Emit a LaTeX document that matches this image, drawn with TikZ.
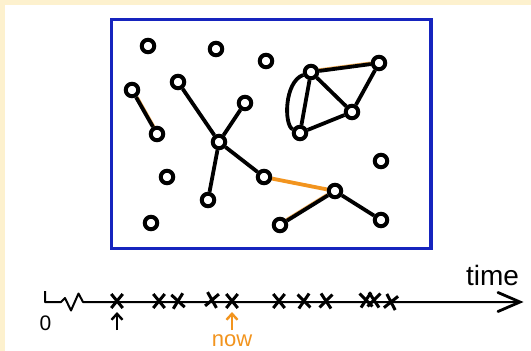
\documentclass[tikz,border=0pt]{standalone}
\usepackage{fontspec}
\setmainfont{Liberation Sans}
\usetikzlibrary{shapes.misc,arrows.meta,backgrounds}
\definecolor{cream}{RGB}{253,241,206}
\definecolor{boxblue}{RGB}{22,36,190}
\definecolor{myorange}{RGB}{242,148,30}
\begin{document}
\begin{tikzpicture}[x=1pt,y=-1pt,
  vtx/.style={circle,draw=black,fill=white,line width=4pt,minimum size=12.5pt,inner sep=0pt},
  edge/.style={line width=3.8pt,black},
  oedge/.style={line width=3.8pt,myorange},
  halo/.style={line width=3pt,myorange!75},
  xmk/.style={cross out,draw=black,line width=3pt,minimum width=8.5pt,minimum height=11pt,inner sep=0pt},
  uparrow/.style={line width=2.4pt,-{Straight Barb[length=6pt,width=11pt,line width=2.4pt]}}]
\useasboundingbox (0,0) rectangle (531,351);
\begin{scope}[on background layer]
  \fill[cream] (0,0) rectangle (531,351);
  \fill[white] (5,5) rectangle (531,351);
\end{scope}
% frame
\draw[boxblue,line width=3.2pt] (111.5,19.5) rectangle (431,248.5);
% vertices
\node[vtx] (n1) at (148,46) {};
\node[vtx] (n2) at (216,49) {};
\node[vtx] (n3) at (266,61) {};
\node[vtx] (A) at (311,72) {};
\node[vtx] (B) at (379,63) {};
\node[vtx] (C) at (352,112) {};
\node[vtx] (D) at (300,133) {};
\node[vtx] (p1) at (132,90) {};
\node[vtx] (p2) at (157,134) {};
\node[vtx] (s1) at (178,82) {};
\node[vtx] (s2) at (245,103) {};
\node[vtx] (hub) at (219,142) {};
\node[vtx] (s3) at (264,177) {};
\node[vtx] (s4) at (208,200) {};
\node[vtx] (n4) at (167,177) {};
\node[vtx] (n5) at (151,223) {};
\node[vtx] (n6) at (381,161) {};
\node[vtx] (t1) at (335,191) {};
\node[vtx] (t2) at (280,225) {};
\node[vtx] (t3) at (381,220) {};
% edges
\begin{scope}[on background layer]
  \draw[halo,transform canvas={shift={(1.1pt,0pt)}}] (p1) -- (p2);
  \draw[halo,transform canvas={shift={(0pt,1.1pt)}}] (A) -- (B);
  \draw[halo,transform canvas={shift={(-0.8pt,0.8pt)}}] (t1) -- (t2);
  \draw[edge] (p1) -- (p2);
  \draw[edge] (hub) -- (s1);
  \draw[edge] (hub) -- (s2);
  \draw[edge] (hub) -- (s4);
  \draw[edge] (hub) -- (s3);
  \draw[oedge] (s3) -- (t1);
  \draw[edge] (t1) -- (t2);
  \draw[edge] (t1) -- (t3);
  \draw[edge] (A) -- (B);
  \draw[edge] (B) -- (C);
  \draw[edge] (A) -- (C);
  \draw[edge] (A) -- (D);
  \draw[edge] (C) -- (D);
  \draw[edge] (A) .. controls (284,82) and (284,125) .. (D);
\end{scope}
% time line
\coordinate (tl0) at (45,291);
\coordinate (tlend) at (520,302);
\draw[line width=2pt,line join=round] (tl0) -- (45,302) -- (61,302) -- (65,298) -- (71,310.5) -- (78.5,293.5) -- (83,302) -- (tlend);
\draw[line width=2.8pt,line cap=round,line join=miter] (498,292.5) -- (tlend) -- (498,311.5);
% events
\node[xmk] (x1) at (117,301) {};
\node[xmk] (x2) at (159,301) {};
\node[xmk,rotate=8] (x3) at (178,301) {};
\node[xmk,rotate=-10] (x4) at (212,300) {};
\node[xmk] (x5) at (232,301) {};
\node[xmk] (x6) at (279,301) {};
\node[xmk,rotate=5] (x7) at (304,301) {};
\node[xmk,rotate=-6] (x8) at (326,301) {};
\node[xmk,rotate=6] (x9) at (366,300) {};
\node[xmk,rotate=-6] (x10) at (374,300) {};
\node[xmk,rotate=-12] (x11) at (391,302) {};
% arrows
\coordinate (a1) at (117,330);
\coordinate (a2) at (232,330);
\draw[uparrow] (a1) -- (x1.south) [shorten >=4pt];
\draw[uparrow,myorange] (a2) -- (x5.south) [shorten >=4pt];
% labels
\node[anchor=base,inner sep=0pt,font=\fontsize{28}{30}\selectfont] (time) at (492.5,285) {time};
\node[anchor=base,inner sep=0pt,font=\fontsize{21}{23}\selectfont] (zero) at (45.5,330.5) {0};
\node[anchor=base,inner sep=0pt,text=myorange,font=\fontsize{22}{24}\selectfont] (now) at (232,346) {now};
\end{tikzpicture}
\end{document}
